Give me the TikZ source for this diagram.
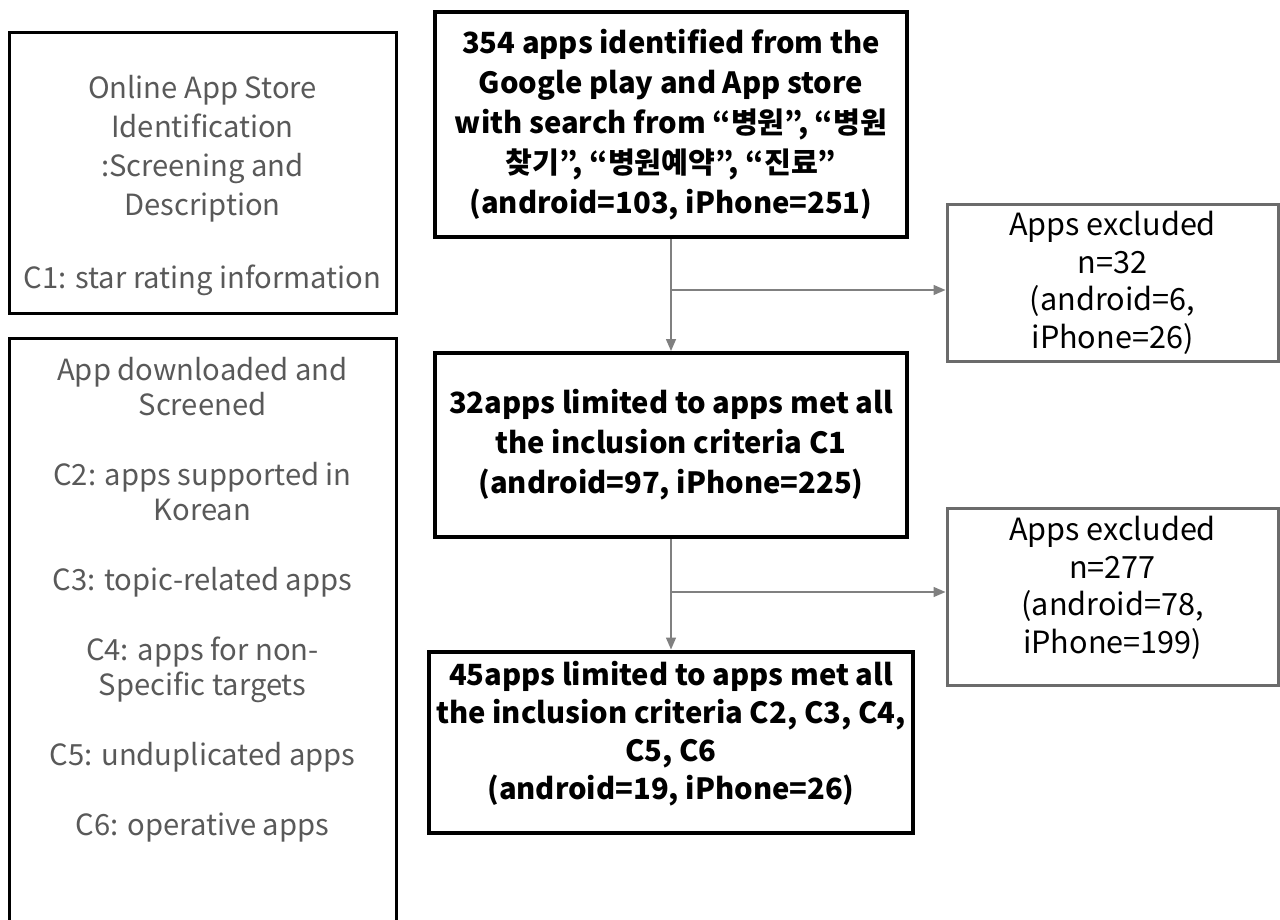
\documentclass[tikz,border=0pt]{standalone}
\usepackage{fontspec}
\setmainfont{Noto Sans CJK KR}
\usetikzlibrary{arrows.meta,positioning}

\definecolor{txtgray}{HTML}{595959}
\definecolor{boxgray}{HTML}{6B6B6B}
\definecolor{arrgray}{HTML}{808080}

\tikzset{
  mainbox/.style={draw=black,line width=2pt,minimum width=236pt,align=center,
    font=\bfseries\fontsize{14.6}{20}\selectfont},
  sidebox/.style={draw=black,line width=1.5pt,minimum width=193.5pt},
  sidetext/.style={align=center,text=txtgray,font=\fontsize{14.6}{19.5}\selectfont},
  exbox/.style={draw=boxgray,line width=1.5pt,minimum width=165.5pt,align=center,
    font=\fontsize{15.3}{18.8}\selectfont},
  flow/.style={draw=arrgray,line width=0.75pt,-{Triangle[length=6pt,width=5pt]}}
}

\begin{document}
\begin{tikzpicture}[x=0.5pt,y=-0.5pt]
    \useasboundingbox (0,0) rectangle (1280,920);

    % criteria on the left
    \node[sidebox,minimum height=140.5pt] (store) at (202.5,173) {};
    \node[sidetext,anchor=north] (storetext) at (202.5,68)
        {Online App Store\\Identification\\:Screening and\\Description\\[17pt]C1: star rating information};
    \node[sidebox,minimum height=296.5pt,anchor=north] (dl) at (202.5,337) {};
    \node[sidetext,font=\fontsize{14.6}{17.5}\selectfont,anchor=north] (dltext) at (202.5,350)
        {App downloaded and\\Screened\\[17.5pt]C2: apps supported in\\Korean\\[17.5pt]C3: topic-related apps\\[17.5pt]C4: apps for non-\\Specific targets\\[17.5pt]C5: unduplicated apps\\[17.5pt]C6: operative apps};

    % flow
    \node[mainbox,minimum height=112.5pt] (found) at (671,124.5)
        {354 apps identified from the\\Google play and App store\\with search from “병원”, “병원\\찾기”, “병원예약”, “진료”\\(android=103, iPhone=251)};
    \node[mainbox,minimum height=92pt] (crit1) at (671,445)
        {32apps limited to apps met all\\the inclusion criteria C1\\(android=97, iPhone=225)};
    \node[mainbox,minimum height=90.5pt,font=\bfseries\fontsize{14.6}{19}\selectfont] (final) at (671,742)
        {45apps limited to apps met all\\the inclusion criteria C2, C3, C4,\\C5, C6\\(android=19, iPhone=26)\\[-7pt]\mbox{}};

    \node[exbox,minimum height=75.5pt] (ex1) at (1112.5,283)
        {Apps excluded\\n=32\\(android=6,\\iPhone=26)};
    \node[exbox,minimum height=88.5pt] (ex2) at (1112.5,596.5)
        {Apps excluded\\n=277\\(android=78,\\iPhone=199)\\[-7pt]\mbox{}};

    \coordinate (split1) at (671,290);
    \coordinate (split2) at (671,592);

    \draw[flow] (found) -- (crit1);
    \draw[flow] (split1) -- (split1 -| ex1.west);
    \draw[flow] (crit1) -- (final);
    \draw[flow] (split2) -- (split2 -| ex2.west);
\end{tikzpicture}
\end{document}
